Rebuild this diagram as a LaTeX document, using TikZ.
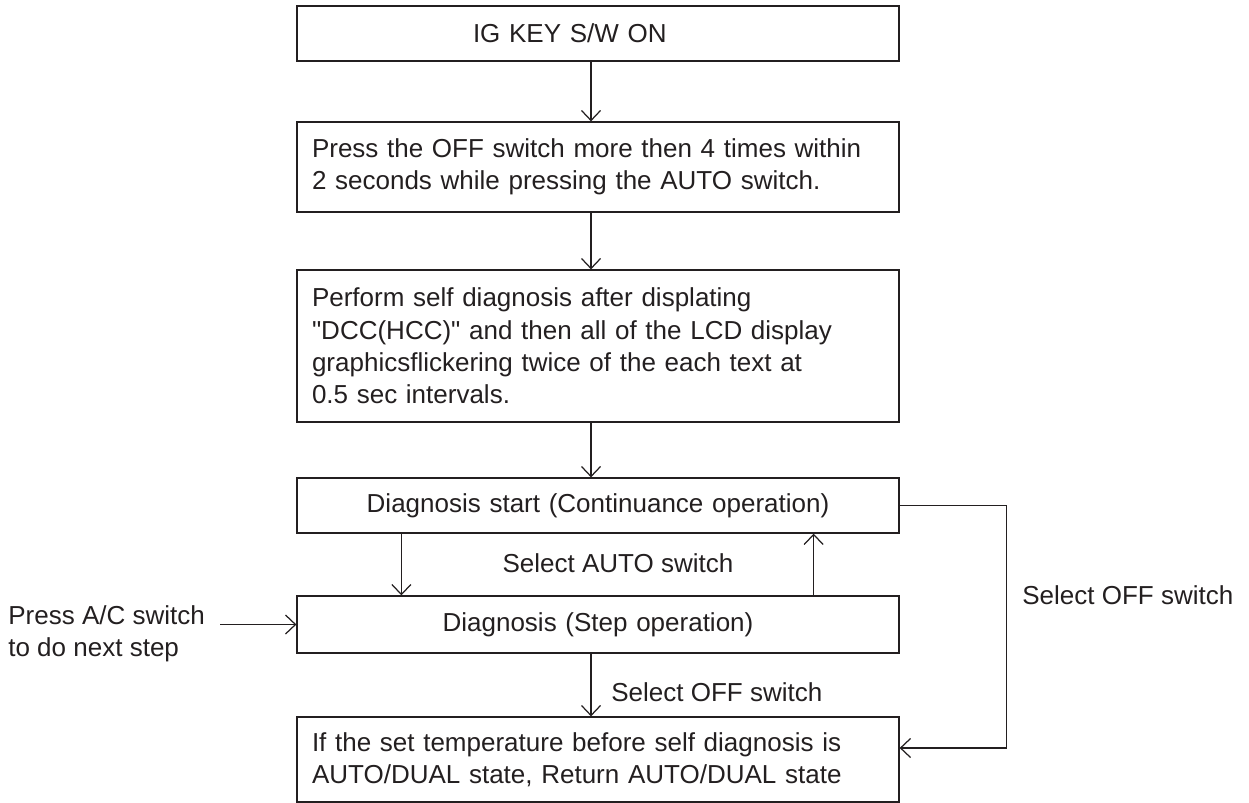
\documentclass[tikz,border=0pt]{standalone}
\usepackage{fontspec}
\setmainfont{Liberation Sans}
\usetikzlibrary{arrows.meta,positioning,calc}
\definecolor{ink}{RGB}{35,31,32}
\tikzset{
  >={Straight Barb[length=2mm,width=3.8mm]},
  box/.style={draw=ink,line width=0.7pt,text=ink,minimum width=12.04cm,
    inner xsep=0.3cm,inner ysep=0pt,text width=11.44cm,align=#1,
    font=\fontsize{14.8}{18.4}\selectfont},
  box/.default=left,
  flow/.style={->,line width=0.7pt,draw=ink},
  tag/.style={text=ink,inner sep=0pt,align=left,font=\fontsize{14.8}{18.4}\selectfont},
}
\begin{document}
\begin{tikzpicture}
  \useasboundingbox (0,0) rectangle (24.98,-16.06);
  % main column
  \node[box,inner xsep=3.52cm,text width=5cm,minimum height=1.10cm] (key) at (11.96,-0.67) {IG KEY S/W ON};
  \node[box,minimum height=1.80cm] (press) at (11.96,-3.34)
    {Press the OFF switch more then 4 times within\\2 seconds while pressing the AUTO switch.};
  \node[box,minimum height=3.04cm] (self) at (11.96,-6.92)
    {Perform self diagnosis after displating\\\textquotedbl DCC(HCC)\textquotedbl{} and then all of the LCD display\\graphicsflickering twice of the each text at\\0.5 sec intervals.};
  \node[box=center,minimum height=1.10cm] (start) at (11.96,-10.11) {Diagnosis start (Continuance operation)};
  \node[box=center,minimum height=1.14cm] (stepop) at (11.96,-12.49) {Diagnosis (Step operation)};
  \node[box,minimum height=1.70cm] (ret) at (11.96,-15.19)
    {If the set temperature before self diagnosis is\\AUTO/DUAL state, Return AUTO/DUAL state};
  % labels
  \node[tag,anchor=west] (aclbl) at (0.16,-12.68) {Press A/C switch\\to do next step};
  \node[tag] (autolbl) at (12.36,-11.26) {Select AUTO switch};
  \node[tag,anchor=west] (offlbl) at (12.22,-13.84) {Select OFF switch};
  \node[tag,anchor=west] (offright) at (20.44,-11.9) {Select OFF switch};
  % connectors
  \draw[flow] ([xshift=-0.14cm]key.south) -- ([xshift=-0.14cm]press.north);
  \draw[flow] ([xshift=-0.14cm]press.south) -- ([xshift=-0.14cm]self.north);
  \draw[flow] ([xshift=-0.14cm]self.south) -- ([xshift=-0.14cm]start.north);
  \draw[flow] ([xshift=2.1cm]start.south west) -- ([xshift=2.1cm]stepop.north west);
  \draw[flow] ([xshift=-1.72cm]stepop.north east) -- ([xshift=-1.72cm]start.south east);
  \draw[flow] ([xshift=-0.14cm]stepop.south) -- ([xshift=-0.14cm]ret.north);
  \draw[flow] ([xshift=3mm]aclbl.east |- stepop.west) -- (stepop.west);
  \draw[flow] (start.east) -- ++(2.14,0) |- ([yshift=0.23cm]ret.east);
\end{tikzpicture}
\end{document}
